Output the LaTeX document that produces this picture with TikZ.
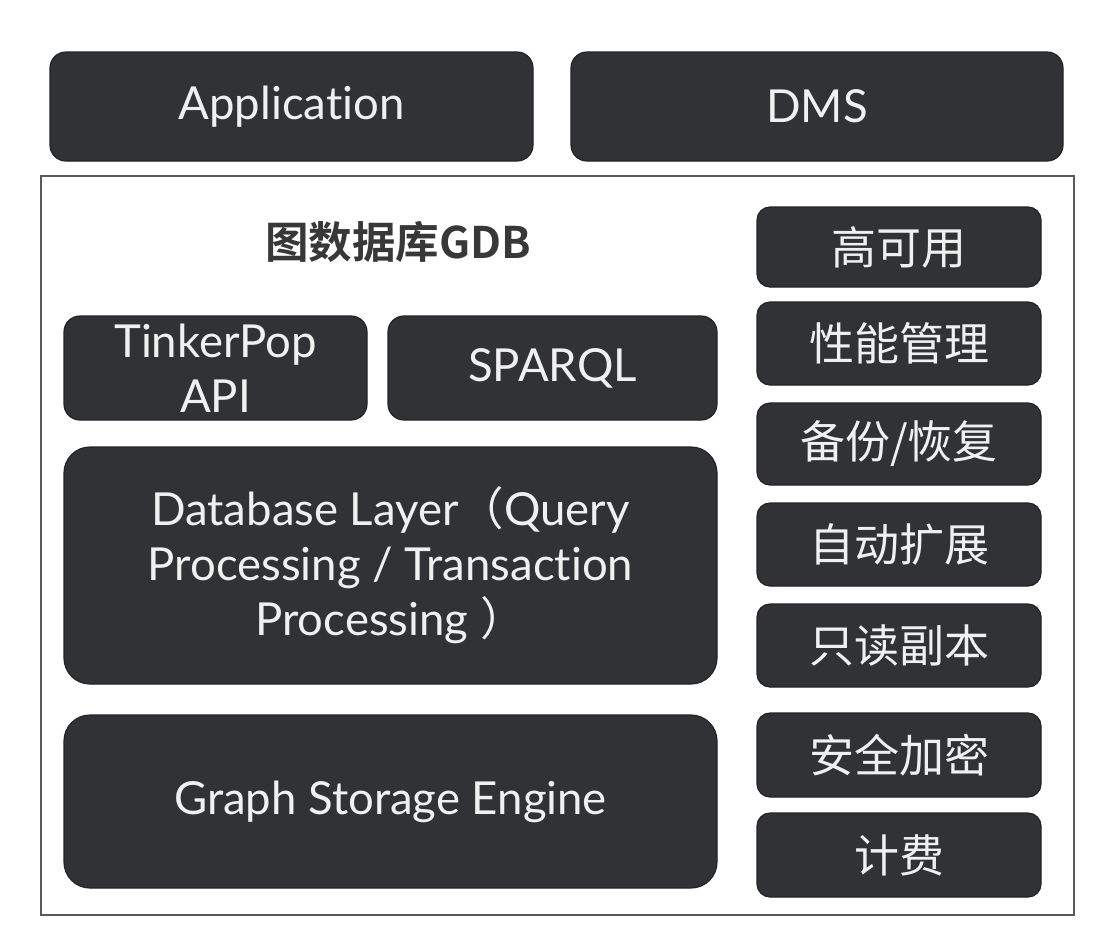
\documentclass[tikz,border=0pt]{standalone}
\usepackage{fontspec}
\setmainfont{Lato}[Ligatures=NoCommon]
\newfontfamily\cjk{Noto Sans CJK SC}
\newfontfamily\cjkbold{Noto Sans CJK SC Bold}
\definecolor{boxfill}{HTML}{303236}
\definecolor{boxline}{HTML}{222326}
\definecolor{framegray}{HTML}{5A5A5A}
\definecolor{titlegray}{HTML}{383838}
\tikzset{
  darkbox/.style={draw=boxline,line width=1.2pt,fill=boxfill,rounded corners=16pt,
    text=white!94!black,align=center,inner sep=0pt},
  latin/.style={font=\fontsize{45.5}{55}\selectfont},
  hanzi/.style={font=\cjk\fontsize{45}{55}\selectfont},
  sidebox/.style={darkbox,hanzi,minimum width=284pt,rounded corners=13pt},
}
\begin{document}
\begin{tikzpicture}[x=1pt,y=-1pt]
  \useasboundingbox (0,0) rectangle (1108,946);
  % top row
  \node[darkbox,latin,minimum width=483pt,minimum height=109pt] (app) at (291.5,106.5) {Application};
  \node[darkbox,latin,minimum width=492pt,minimum height=109pt] (dms) at (817,106.5) {DMS};
  % GDB frame
  \draw[framegray,line width=1.6pt] (41,176) rectangle (1074,915);
  \node[font=\cjkbold\fontsize{43.5}{50}\selectfont,text=titlegray] (title) at (398,242) {图数据库GDB};
  % query interfaces
  \node[darkbox,latin,minimum width=303pt,minimum height=104pt] (tinker) at (215.5,368) {TinkerPop\\API};
  \node[darkbox,latin,minimum width=329pt,minimum height=104pt] (sparql) at (552.5,368) {SPARQL};
  \node[darkbox,latin,minimum width=653pt,minimum height=237pt,rounded corners=26pt] (dblayer) at (390.5,565.5)
    {Database Layer{\cjk（}Query\\Processing / Transaction\\Processing {\cjk）}};
  \node[darkbox,latin,minimum width=653pt,minimum height=173pt,rounded corners=26pt] (storage) at (390.5,801.5) {Graph Storage Engine};
  % side services
  \node[sidebox,minimum height=80pt] (ha) at (899,247) {高可用};
  \node[sidebox,minimum height=83pt] (perf) at (899,343.5) {性能管理};
  \node[sidebox,minimum height=82pt] (backup) at (899,444) {备份/恢复};
  \node[sidebox,minimum height=83pt] (autoscale) at (899,544.5) {自动扩展};
  \node[sidebox,minimum height=83pt] (replica) at (899,645.5) {只读副本};
  \node[sidebox,minimum height=84pt] (security) at (899,755) {安全加密};
  \node[sidebox,minimum height=84pt] (billing) at (899,855) {计费};
\end{tikzpicture}
\end{document}
